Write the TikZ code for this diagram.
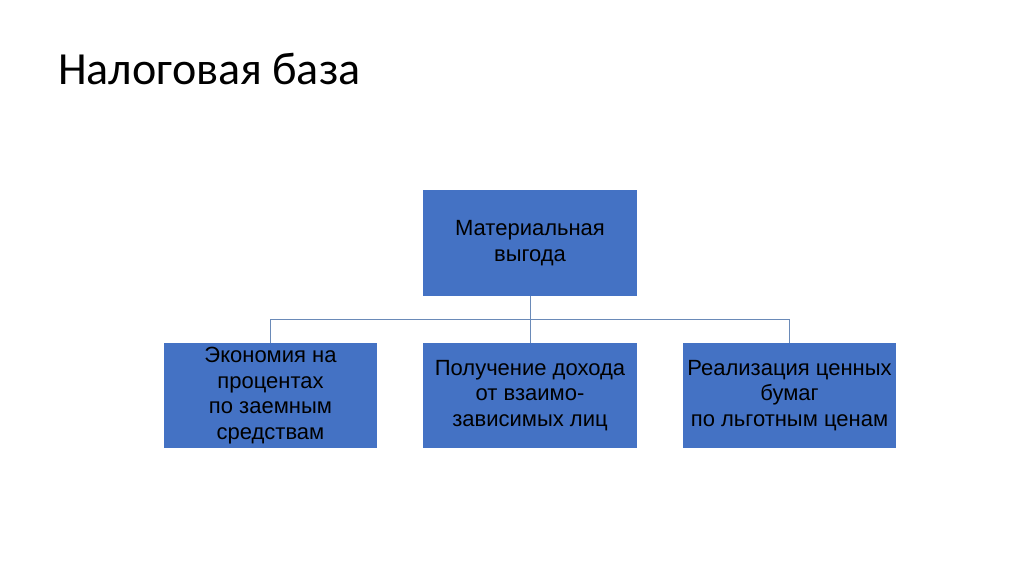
\documentclass[tikz,border=0pt]{standalone}
\usepackage{fontspec}
\setmainfont{Liberation Sans}
\newfontfamily\titlefont{Carlito}
\definecolor{boxblue}{HTML}{4472C4}
\definecolor{linkc}{HTML}{6A8AB8}
\begin{document}
\begin{tikzpicture}[x=1pt,y=-1pt,
  box/.style={draw=none,fill=boxblue,minimum width=214pt,minimum height=106pt,
    inner sep=1pt,align=center,text=black,font=\fontsize{22}{25.8}\selectfont},
  link/.style={draw=linkc,line width=1pt}]
\useasboundingbox (0,0) rectangle (1024,574);
\node[anchor=base west,font=\titlefont\fontsize{46}{50}\selectfont,inner sep=0pt] (title) at (58,84) {Налоговая база};
\node[box] (top) at (530,243) {Материальная\\выгода};
\node[box,minimum width=213pt,minimum height=105pt] (l) at (270.5,395.5) {Экономия на\\процентах\\по заемным\\средствам};
\node[box,minimum width=214pt,minimum height=105pt] (m) at (530,395.5) {Получение дохода\\от взаимо-\\зависимых лиц};
\node[box,minimum width=213pt,minimum height=105pt] (r) at (789.5,395.5) {Реализация ценных\\бумаг\\по льготным ценам};
\coordinate (j) at (530,319);
\draw[link] (top.south) -- (j);
\draw[link] (l.north) -- (l.north |- j) -- (r.north |- j) -- (r.north);
\draw[link] (j) -- (m.north);
\end{tikzpicture}
\end{document}
